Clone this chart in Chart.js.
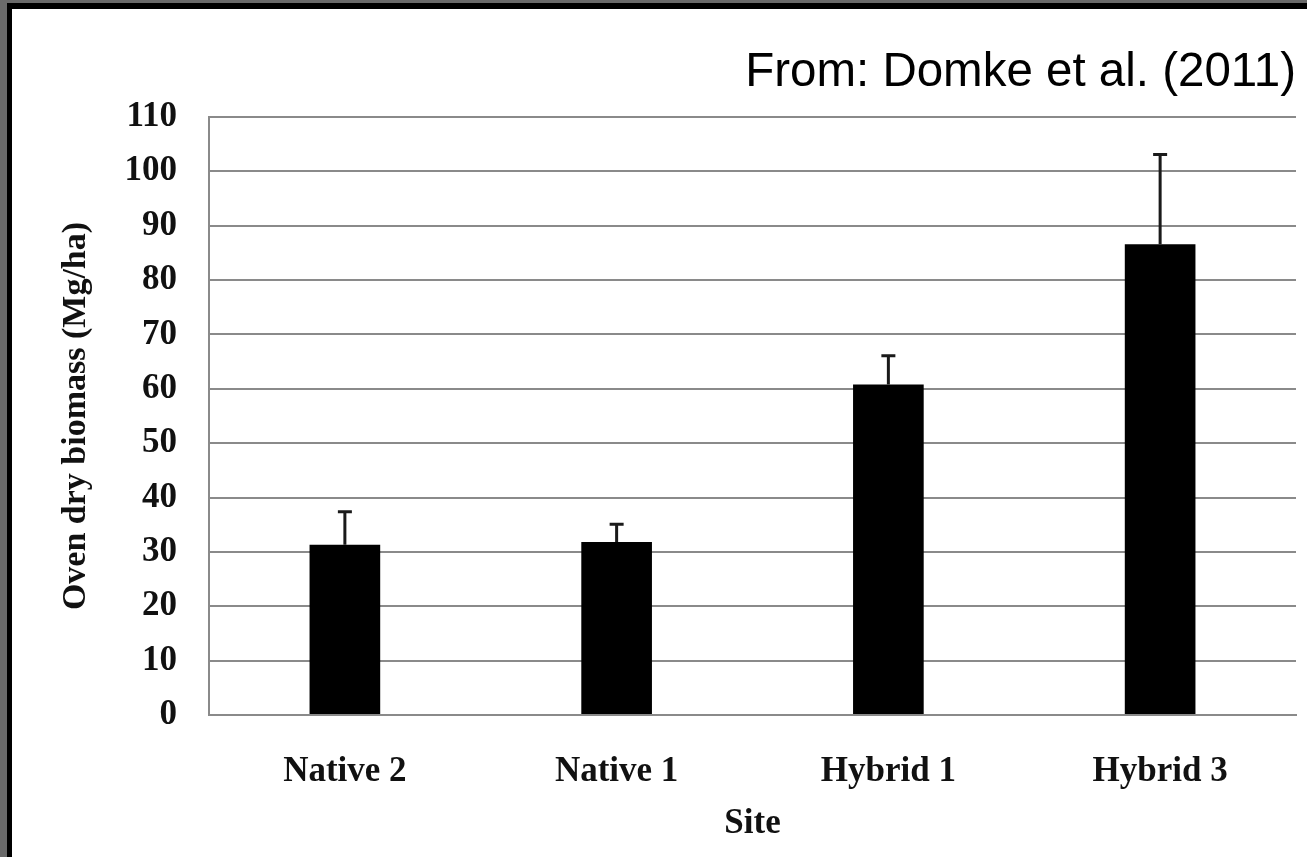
<!DOCTYPE html>
<html>
<head>
<meta charset="utf-8">
<script src="https://cdn.jsdelivr.net/npm/chart.js@4"></script>
<style>
  html, body { margin: 0; padding: 0; background: #fff; }
  #wrap { position: relative; width: 1307px; height: 857px; overflow: hidden; }
  #wrap canvas { position: absolute; left: 0; top: 0; }
  .frame { position: absolute; }
</style>
</head>
<body>
<div id="wrap">
  <canvas id="biomass-chart" width="1307" height="857"></canvas>
  <div class="frame" style="left:0;top:0;width:1307px;height:3px;background:#6a6a6a"></div>
  <div class="frame" style="left:0;top:0;width:7px;height:857px;background:#6a6a6a"></div>
  <div class="frame" style="left:7px;top:3px;width:1300px;height:6px;background:#000"></div>
  <div class="frame" style="left:7px;top:3px;width:5px;height:854px;background:#000"></div>
</div>
<script>
// data
const sites = ['Native 2', 'Native 1', 'Hybrid 1', 'Hybrid 3'];
const biomass = [31.3, 31.8, 60.8, 86.6];      // Mg/ha
const biomassErr = [6.1, 3.3, 5.3, 16.5];      // upper error bar length
const yTicks = [0, 10, 20, 30, 40, 50, 60, 70, 80, 90, 100, 110];

const serif = '"Liberation Serif", "Times New Roman", serif';

// draws the upward error bars on top of each bar
const errorBars = {
    id: 'errorBars',
    afterDatasetsDraw(chart) {
        const ctx = chart.ctx;
        const yScale = chart.scales.y;
        const meta = chart.getDatasetMeta(0);
        ctx.save();
        ctx.strokeStyle = '#1a1a1a';
        ctx.lineWidth = 3;
        meta.data.forEach((bar, i) => {
            const yTop = yScale.getPixelForValue(biomass[i] + biomassErr[i]);
            ctx.beginPath();
            ctx.moveTo(bar.x, bar.y);
            ctx.lineTo(bar.x, yTop);
            ctx.moveTo(bar.x - 7, yTop);
            ctx.lineTo(bar.x + 7, yTop);
            ctx.stroke();
        });
        ctx.restore();
    }
};

new Chart(document.getElementById('biomass-chart').getContext('2d'), {
    type: 'bar',
    data: {
        labels: sites,
        datasets: [{
            data: biomass,
            backgroundColor: '#000',
            borderWidth: 0,
            barPercentage: 0.26,
            categoryPercentage: 1
        }]
    },
    options: {
        responsive: false,
        animation: false,
        layout: { padding: { left: 12, top: 9, right: 11, bottom: 0 } },
        plugins: {
            legend: { display: false },
            tooltip: { enabled: false },
            title: {
                display: true,
                text: 'From: Domke et al. (2011)',
                align: 'end',
                color: '#000',
                font: { family: '"Liberation Sans", Arial, sans-serif', size: 47.5, weight: 'normal' },
                padding: { top: 35, bottom: 16 }
            }
        },
        scales: {
            x: {
                afterFit: scale => { scale.height = 142; },
                grid: { display: false, drawTicks: false },
                border: { display: true, color: '#8a8a8a', width: 2 },
                ticks: {
                    color: '#111',
                    padding: 36,
                    font: { family: serif, size: 35, weight: 'bold' }
                },
                title: {
                    display: true,
                    text: 'Site',
                    color: '#111',
                    padding: { bottom: 12 },
                    font: { family: serif, size: 35, weight: 'bold' }
                }
            },
            y: {
                min: 0,
                max: 110,
                afterFit: scale => { scale.width = 197; },
                afterBuildTicks: scale => { scale.ticks = yTicks.map(v => ({ value: v })); },
                grid: { color: '#8a8a8a', lineWidth: 2, drawTicks: false },
                border: { display: true, color: '#8a8a8a', width: 2 },
                ticks: {
                    color: '#111',
                    padding: 32,
                    font: { family: serif, size: 35, weight: 'bold' }
                },
                title: {
                    display: true,
                    text: 'Oven dry biomass (Mg/ha)',
                    color: '#111',
                    padding: { top: 44 },
                    font: { family: serif, size: 34, weight: 'bold' }
                }
            }
        }
    },
    plugins: [errorBars]
});
</script>
</body>
</html>
